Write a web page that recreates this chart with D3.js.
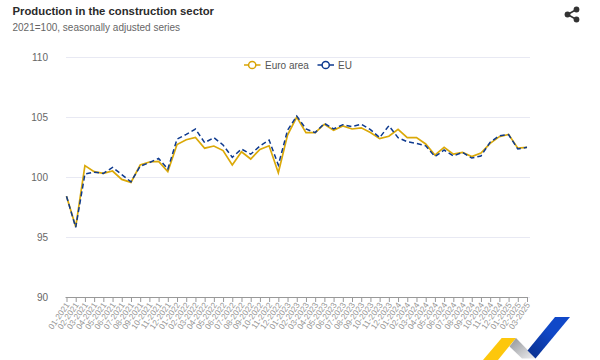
<!DOCTYPE html>
<html><head><meta charset="utf-8">
<style>html,body{margin:0;padding:0;background:#fff}svg{display:block}text{font-family:"Liberation Sans",Arial,sans-serif}</style>
<script src="https://cdn.jsdelivr.net/npm/d3@7"></script></head>
<body><svg id="c" width="600" height="360"></svg>
<script>
const months = ["01-2021","02-2021","03-2021","04-2021","05-2021","06-2021","07-2021","08-2021","09-2021","10-2021","11-2021","12-2021",
"01-2022","02-2022","03-2022","04-2022","05-2022","06-2022","07-2022","08-2022","09-2022","10-2022","11-2022","12-2022",
"01-2023","02-2023","03-2023","04-2023","05-2023","06-2023","07-2023","08-2023","09-2023","10-2023","11-2023","12-2023",
"01-2024","02-2024","03-2024","04-2024","05-2024","06-2024","07-2024","08-2024","09-2024","10-2024","11-2024","12-2024",
"01-2025","02-2025","03-2025"];
const euroArea = [98.4,95.85,100.95,100.45,100.3,100.5,99.8,99.55,101,101.25,101.3,100.45,
102.7,103.1,103.3,102.4,102.58,102.2,101,102.1,101.5,102.3,102.6,100.35,
103.5,105,103.7,103.7,104.4,103.9,104.25,104,104.1,103.7,103.2,103.4,
103.97,103.28,103.28,102.75,101.83,102.47,101.9,102.05,101.7,102,102.8,103.36,103.55,102.4,102.47];
const eu = [98.4,95.8,100.25,100.4,100.3,100.8,100.2,99.6,100.9,101.2,101.55,100.65,
103.15,103.55,104,102.86,103.28,102.67,101.64,102.33,101.9,102.58,103.08,101,
103.9,105.08,104,103.7,104.47,104,104.36,104.2,104.4,103.95,103.28,104.27,
103.28,102.94,102.8,102.6,101.7,102.25,101.75,102.05,101.58,101.75,102.9,103.44,103.53,102.33,102.47];
const yTicks = [90,95,100,105,110];
const legendItems = [{name:"Euro area",color:"#d9a406",dash:null,lx:244,tx:265},{name:"EU",color:"#0e3a8f",dash:"7,5",lx:317.5,tx:338}];
const svg = d3.select("#c");
const x = d3.scalePoint().domain(months).range([66.5,527]);
const y = d3.scaleLinear().domain([90,110]).range([297,57]);
svg.append("text").attr("x",12.5).attr("y",14.5).attr("font-size",11.3).attr("font-weight",700).attr("fill","#2b2b2b").text("Production in the construction sector");
svg.append("text").attr("x",12.5).attr("y",31).attr("font-size",10).attr("fill","#666").text("2021=100, seasonally adjusted series");
const gy = svg.append("g").attr("transform","translate(66,0)").call(d3.axisLeft(y).tickValues(yTicks).tickSize(-464).tickPadding(18));
gy.select(".domain").remove();
gy.selectAll(".tick line").attr("stroke","#e8e9f3");
gy.selectAll(".tick text").attr("font-size",10).attr("fill","#666").attr("font-family",'"Liberation Sans",Arial,sans-serif');
const gx = svg.append("g").attr("transform","translate(0,297)").call(d3.axisBottom(x).tickSize(5));
gx.select(".domain").attr("stroke","#999").attr("d","M65.5,0.5H528");
gx.selectAll(".tick line").attr("stroke","#999");
gx.selectAll(".tick text").attr("font-size",8.3).attr("fill","#969696").attr("font-family",'"Liberation Sans",Arial,sans-serif')
  .attr("text-anchor","end").attr("y",0).attr("dy",0).attr("transform","translate(3,8) rotate(-55)");
const line = d3.line().x((d,i)=>x(months[i])).y(d=>y(d));
svg.append("path").datum(euroArea).attr("d",line).attr("fill","none").attr("stroke","#dba908").attr("stroke-width",1.7);
svg.append("path").datum(eu).attr("d",line).attr("fill","none").attr("stroke","#0e3a8f").attr("stroke-width",1.5).attr("stroke-dasharray","5,3");
const lg = svg.append("g").selectAll("g").data(legendItems).join("g");
lg.append("path").attr("d",d=>`M${d.lx},65h16.5`).attr("stroke",d=>d.color).attr("stroke-width",1.5).attr("stroke-dasharray",d=>d.dash);
lg.append("circle").attr("cx",d=>d.lx+8.2).attr("cy",65).attr("r",3.6).attr("fill","#fff").attr("stroke",d=>d.color).attr("stroke-width",1.5);
lg.append("text").attr("x",d=>d.tx).attr("y",68.5).attr("font-size",10).attr("fill","#555").text(d=>d.name);
// share icon
const sh = svg.append("g").attr("fill","#333");
sh.append("path").attr("d","M576.5,9.5L567.5,14.5L576.5,19.5").attr("fill","none").attr("stroke","#333").attr("stroke-width",1.6);
[[576.5,9.5],[567.5,14.5],[576.5,19.5]].forEach(p=>sh.append("circle").attr("cx",p[0]).attr("cy",p[1]).attr("r",2.9));
// logo
const defs = svg.append("defs");
const g1=defs.append("linearGradient").attr("id","gb").attr("x1",1).attr("y1",0).attr("x2",0).attr("y2",1);
g1.append("stop").attr("offset","0.4").attr("stop-color","#1048c8");g1.append("stop").attr("offset","1").attr("stop-color","#0a2f8a");
const g2=defs.append("linearGradient").attr("id","gg").attr("x1",0).attr("y1",0).attr("x2",1).attr("y2",1);
g2.append("stop").attr("offset","0").attr("stop-color","#8f9296");g2.append("stop").attr("offset","1").attr("stop-color","#f0f0f2");
svg.append("path").attr("d","M501.7,338H516L498,360H483Z").attr("fill","#fdc70c");
svg.append("path").attr("d","M516,338L536,358.5H522L509.5,346.5Z").attr("fill","url(#gg)");
svg.append("path").attr("d","M555,317H570L535.5,358.5L527.5,350.5Z").attr("fill","url(#gb)");
</script></body></html>
